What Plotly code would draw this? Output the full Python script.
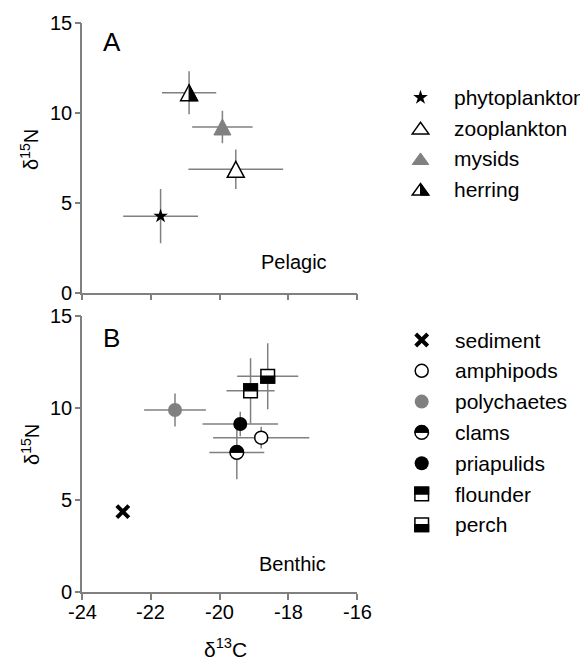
import plotly.graph_objects as go

# ---------------- data ----------------
pel_names = ["phytoplankton", "zooplankton", "mysids", "herring"]
pel_d13c = [-21.72, -19.53, -19.92, -20.89]
pel_d13c_sd = [1.09, 1.38, 0.88, 0.79]
pel_d15n = [4.25, 6.85, 9.20, 11.10]
pel_d15n_sd = [1.50, 1.10, 0.90, 1.20]

ben_names = ["sediment", "amphipods", "polychaetes", "clams", "priapulids", "flounder", "perch"]
ben_d13c = [-22.82, -18.79, -21.30, -19.50, -19.40, -19.10, -18.60]
ben_d13c_sd = [None, 1.40, 0.90, 0.80, 1.10, 0.70, 0.89]
ben_d15n = [4.36, 8.38, 9.88, 7.58, 9.12, 10.92, 11.71]
ben_d15n_sd = [None, 0.59, 0.89, 1.46, 0.67, 1.77, 1.79]

x_ticks = [-24, -22, -20, -18, -16]
x_tick_labels = ["-24", "-22", "-20", "-18", "-16"]
y_ticks = [0, 5, 10, 15]
y_tick_labels = ["0", "5", "10", "15"]
panel_labels = ["A", "B"]
habitat_labels = ["Pelagic", "Benthic"]
x_title = "δ<sup>13</sup>C"
y_title = "δ<sup>15</sup>N"

# ---------------- styles ----------------
OFF = 8                      # page body margin of the html page
W_FIG, H_FIG = 580, 653      # figure size so that it fills the 588x661 window
GREY = "#808080"
BLACK = "#000000"
FONT = "Liberation Sans, Arial, sans-serif"

symbol_style = {
    "phytoplankton": "star", "zooplankton": "tri_open", "mysids": "tri_grey",
    "herring": "tri_half", "sediment": "x", "amphipods": "circ_open",
    "polychaetes": "circ_grey", "clams": "circ_half", "priapulids": "circ_black",
    "flounder": "sq_top", "perch": "sq_bottom",
}

# plot geometry (page pixels)
X_LEFT, X_RIGHT = 82.3, 357.0
A_TOP, A_BOT = 22.5, 292.7
B_TOP, B_BOT = 315.7, 592.0


def fx(p):
    return (p - OFF) / W_FIG


def fy(p):
    return 1 - (p - OFF) / H_FIG


fig = go.Figure()


def tri_pts(hw, top, bot):
    return [(0, top), (hw, bot), (-hw, bot)]


def path_from(pts):
    return "M " + " L ".join(f"{a:.2f},{b:.2f}" for a, b in pts) + " Z"


def circle_path(R, half=None):
    k = 0.5523 * R
    top = f"M {-R},0 C {-R},{k:.2f} {-k:.2f},{R} 0,{R} C {k:.2f},{R} {R},{k:.2f} {R},0"
    bottom = f"C {R},{-k:.2f} {k:.2f},{-R} 0,{-R} C {-k:.2f},{-R} {-R},{-k:.2f} {-R},0 Z"
    if half == "top":
        return top + " Z"
    return top + " " + bottom


def add_path(path, x, y, xref, yref, fill, lc, lw):
    fig.add_shape(type="path", path=path, xref=xref, yref=yref,
                  xsizemode="pixel", ysizemode="pixel", xanchor=x, yanchor=y,
                  fillcolor=fill, line=dict(color=lc, width=lw), layer="above")


def draw_marker(kind, x, y, xref, yref, legend=False):
    scatter_marker = None
    if kind == "star":
        scatter_marker = dict(symbol="star", size=11, color=BLACK, line=dict(width=0))
    elif kind == "x":
        scatter_marker = dict(symbol="x-thin", size=12, color=BLACK,
                              line=dict(width=4, color=BLACK))
    elif kind == "circ_open":
        scatter_marker = dict(symbol="circle", size=13, color="white",
                              line=dict(width=1.5, color=BLACK))
    elif kind == "circ_grey":
        scatter_marker = dict(symbol="circle", size=14, color=GREY, line=dict(width=0))
    elif kind == "circ_black":
        scatter_marker = dict(symbol="circle", size=14, color=BLACK, line=dict(width=0))
    if scatter_marker is not None:
        fig.add_trace(go.Scatter(x=[x], y=[y], mode="markers", marker=scatter_marker,
                                 xaxis=xref, yaxis=yref, showlegend=False, hoverinfo="skip"))
        return
    if legend:
        hw, top, bot = 8.3, 5.8, -5.8
    else:
        hw, top, bot = 8.5, 8.0, -8.0
    if kind == "tri_open":
        add_path(path_from(tri_pts(hw, top, bot)), x, y, xref, yref, "white", BLACK, 1.5)
    elif kind == "tri_grey":
        add_path(path_from(tri_pts(hw, top, bot)), x, y, xref, yref, GREY, GREY, 1)
    elif kind == "tri_half":
        add_path(path_from(tri_pts(hw, top, bot)), x, y, xref, yref, "white", BLACK, 1.5)
        add_path(path_from([(0, top), (hw, bot), (0, bot)]), x, y, xref, yref, BLACK, BLACK, 1)
    elif kind == "circ_half":
        R = 6.8
        add_path(circle_path(R), x, y, xref, yref, "white", BLACK, 1.5)
        add_path(circle_path(R, "top"), x, y, xref, yref, BLACK, BLACK, 1)
    elif kind in ("sq_top", "sq_bottom"):
        s = 6.8
        add_path(path_from([(-s, -s), (s, -s), (s, s), (-s, s)]), x, y, xref, yref,
                 "white", BLACK, 1.5)
        if kind == "sq_top":
            half = [(-s, 0), (s, 0), (s, s), (-s, s)]
        else:
            half = [(-s, -s), (s, -s), (s, 0), (-s, 0)]
        add_path(path_from(half), x, y, xref, yref, BLACK, BLACK, 1.5)


panels = [
    (pel_names, pel_d13c, pel_d13c_sd, pel_d15n, pel_d15n_sd, "x", "y"),
    (ben_names, ben_d13c, ben_d13c_sd, ben_d15n, ben_d15n_sd, "x2", "y2"),
]

# error bars first
for names, xs, xsd, ys, ysd, xr, yr in panels:
    for i, name in enumerate(names):
        has_err = xsd[i] is not None
        fig.add_trace(go.Scatter(
            x=[xs[i]], y=[ys[i]], mode="markers",
            marker=dict(size=1, opacity=0),
            error_x=dict(type="data", array=[xsd[i] or 0], color=GREY, thickness=1.5,
                         width=0, visible=has_err),
            error_y=dict(type="data", array=[ysd[i] or 0], color=GREY, thickness=1.5,
                         width=0, visible=has_err),
            xaxis=xr, yaxis=yr, showlegend=False, hoverinfo="skip"))

# markers on top
for names, xs, xsd, ys, ysd, xr, yr in panels:
    for i, name in enumerate(names):
        draw_marker(symbol_style[name], xs[i], ys[i], xr, yr)

# ---------------- manual legends (pixel overlay axes) ----------------
legends = [
    (pel_names, 420.5, 451.5, 97.5, 30.6),
    (ben_names, 421.7, 453.0, 340.0, 30.8),
]
annotations = []
for names, mx, tx, y0, step in legends:
    for i, name in enumerate(names):
        yy = y0 + i * step
        draw_marker(symbol_style[name], mx, yy, "x3", "y3", legend=True)
        annotations.append(dict(text=name, x=tx, y=yy, xref="x3", yref="y3",
                                xanchor="left", yanchor="middle", showarrow=False,
                                font=dict(size=21, color=BLACK, family=FONT)))

# tick labels (hyphen minus, as in the reference)
for v, lab in zip(x_ticks, x_tick_labels):
    annotations.append(dict(text=lab, x=v, xref="x2", y=fy(612), yref="paper",
                            xanchor="center", yanchor="middle", showarrow=False,
                            font=dict(size=20, color=BLACK, family=FONT)))
for yref in ("y", "y2"):
    for v, lab in zip(y_ticks, y_tick_labels):
        annotations.append(dict(text=lab, x=fx(73.5), xref="paper", y=v, yref=yref,
                                xanchor="right", yanchor="middle", showarrow=False,
                                font=dict(size=20, color=BLACK, family=FONT)))

# panel labels and habitat labels
for lab, yc in zip(panel_labels, (42.5, 338.3)):
    annotations.append(dict(text=lab, x=fx(111.7), y=fy(yc), xref="paper", yref="paper",
                            xanchor="center", yanchor="middle", showarrow=False,
                            font=dict(size=26, color=BLACK, family=FONT)))
for lab, xl, yc in zip(habitat_labels, (259, 257), (262, 564)):
    annotations.append(dict(text=lab, x=fx(xl), y=fy(yc), xref="paper", yref="paper",
                            xanchor="left", yanchor="middle", showarrow=False,
                            font=dict(size=20, color=BLACK, family=FONT)))
# axis titles
annotations.append(dict(text=x_title, x=fx(225), y=fy(648), xref="paper", yref="paper",
                        xanchor="center", yanchor="middle", showarrow=False,
                        font=dict(size=21, color=BLACK, family=FONT)))
for yc in (150, 445):
    annotations.append(dict(text=y_title, x=fx(30), y=fy(yc), xref="paper", yref="paper",
                            xanchor="center", yanchor="middle", showarrow=False, textangle=-90,
                            font=dict(size=20, color=BLACK, family=FONT)))

axis_common = dict(showline=True, linecolor=GREY, linewidth=1.5, ticks="outside",
                   ticklen=6, tickwidth=1.5, tickcolor=GREY, showgrid=False, zeroline=False,
                   showticklabels=False, automargin=False, fixedrange=True)

fig.update_layout(
    width=W_FIG, height=H_FIG, autosize=False,
    margin=dict(l=0, r=0, t=0, b=0),
    paper_bgcolor="white", plot_bgcolor="rgba(0,0,0,0)",
    template="none",
    font=dict(family=FONT, color=BLACK),
    showlegend=False,
    xaxis=dict(domain=[fx(X_LEFT), fx(X_RIGHT)], range=[-24, -16], tickvals=x_ticks,
               anchor="y", **axis_common),
    yaxis=dict(domain=[fy(A_BOT), fy(A_TOP)], range=[0, 15], tickvals=y_ticks,
               anchor="x", **axis_common),
    xaxis2=dict(domain=[fx(X_LEFT), fx(X_RIGHT)], range=[-24, -16], tickvals=x_ticks,
                anchor="y2", **axis_common),
    yaxis2=dict(domain=[fy(B_BOT), fy(B_TOP)], range=[0, 15], tickvals=y_ticks,
                anchor="x2", **axis_common),
    xaxis3=dict(domain=[0, 1], range=[OFF, OFF + W_FIG], visible=False, anchor="y3",
                fixedrange=True),
    yaxis3=dict(domain=[0, 1], range=[OFF + H_FIG, OFF], visible=False, anchor="x3",
                fixedrange=True),
    annotations=annotations,
)

fig.write_html("out.html")
